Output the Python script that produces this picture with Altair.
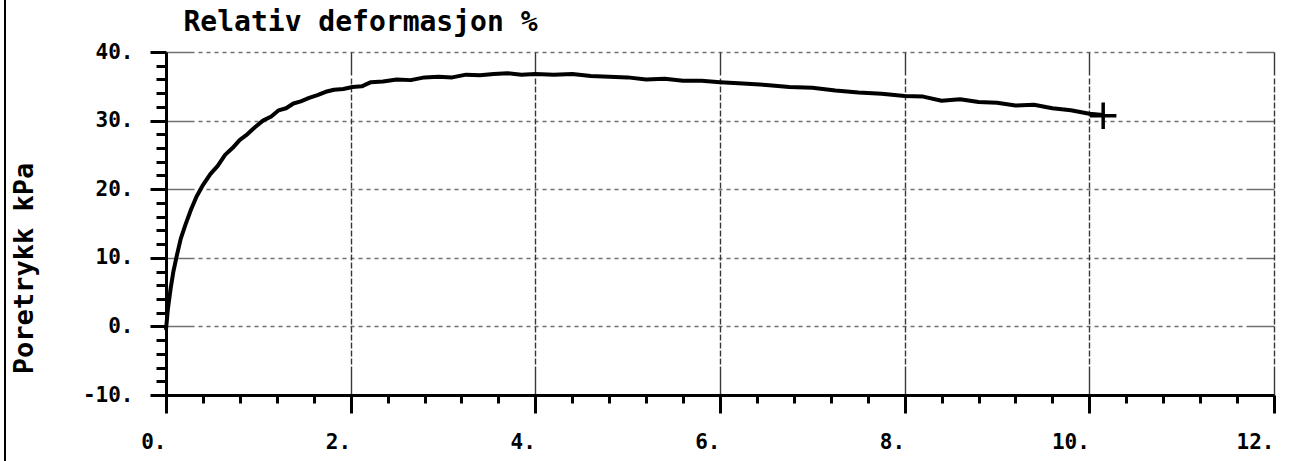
import altair as alt
import pandas as pd

# Curve (Relativ deformasjon %, Poretrykk kPa)
deform = [0.00, 0.02, 0.05, 0.08, 0.12, 0.16, 0.21, 0.27, 0.33, 0.40, 0.48, 0.56,
          0.64, 0.72, 0.80, 0.88, 0.96, 1.05, 1.14, 1.22, 1.30, 1.38, 1.46, 1.55,
          1.64, 1.73, 1.82, 1.92, 2.02, 2.12, 2.22, 2.35, 2.50, 2.65, 2.80, 2.95,
          3.10, 3.25, 3.40, 3.55, 3.70, 3.85, 4.00, 4.20, 4.40, 4.60, 4.80, 5.00,
          5.20, 5.40, 5.60, 5.80, 6.00, 6.25, 6.50, 6.75, 7.00, 7.25, 7.50, 7.75,
          8.00, 8.20, 8.40, 8.60, 8.80, 9.00, 9.20, 9.40, 9.60, 9.80, 10.00, 10.15]
poretrykk = [-0.5, 2.5, 5.5, 8.0, 10.5, 12.8, 14.8, 17.0, 18.9, 20.6, 22.2, 23.4,
             25.0, 26.0, 27.2, 28.0, 29.0, 30.0, 30.6, 31.5, 31.8, 32.5, 32.8, 33.3,
             33.7, 34.2, 34.5, 34.6, 34.9, 35.0, 35.6, 35.7, 36.0, 35.9, 36.3, 36.4,
             36.3, 36.7, 36.6, 36.8, 36.9, 36.7, 36.8, 36.7, 36.8, 36.5, 36.4, 36.3,
             36.0, 36.1, 35.8, 35.8, 35.6, 35.4, 35.2, 34.9, 34.8, 34.4, 34.1, 33.9,
             33.6, 33.5, 32.9, 33.1, 32.7, 32.6, 32.2, 32.3, 31.8, 31.5, 31.0, 30.8]

marker_x = [10.15]
marker_y = [30.7]

x_tick_values = [0, 0.4, 0.8, 1.2, 1.6, 2, 2.4, 2.8, 3.2, 3.6, 4, 4.4, 4.8, 5.2, 5.6, 6,
                 6.4, 6.8, 7.2, 7.6, 8, 8.4, 8.8, 9.2, 9.6, 10, 10.4, 10.8, 11.2, 11.6, 12]
y_tick_values = [-10, -8, -6, -4, -2, 0, 2, 4, 6, 8, 10, 12, 14, 16, 18, 20, 22, 24, 26,
                 28, 30, 32, 34, 36, 38, 40]

x_title = "Relativ deformasjon %"
y_title = "Poretrykk kPa"

curve = pd.DataFrame({"x": deform, "y": poretrykk})
marker = pd.DataFrame({"x": marker_x, "y": marker_y})

FONT = "DejaVu Sans Mono"
W, H = 1108, 343

# grid dash patterns: solid near both ends (plotter tick extensions), dotted in between
h_grid_dash = [28, 4] + [4, 4] * 131 + [28, 10]
v_grid_dash = [23, 3] + [6, 2] * 36 + [29, 10]

x_major = "datum.value % 2 === 0"
y_major = "datum.value % 10 === 0"

x_axis = alt.Axis(
    values=x_tick_values, tickCount=200,
    labelExpr="datum.value % 2 === 0 ? datum.value + '.' : ''",
    labelFont=FONT, labelFontWeight="bold", labelFontSize=21, labelColor="black",
    labelAlign="right", labelBaseline="top", labelPadding=18,
    labelFlush=False, labelOverlap=False,
    tickSize={"condition": {"test": x_major, "value": 18}, "value": 8},
    tickWidth=3, tickColor="black",
    domainColor="black", domainWidth=3,
    grid=True, gridColor="#222222", gridWidth=1.4, gridDash=v_grid_dash,
    gridOpacity={"condition": {"test": x_major, "value": 0.9}, "value": 0},
    title=None,
)
y_axis = alt.Axis(
    values=y_tick_values, tickCount=200,
    labelExpr="datum.value % 10 === 0 ? datum.value + '.' : ''",
    labelFont=FONT, labelFontWeight="bold", labelFontSize=21, labelColor="black",
    labelAlign="right", labelBaseline="middle", labelPadding=17,
    labelFlush=False, labelOverlap=False,
    tickSize={"condition": {"test": y_major, "value": 16}, "value": 10},
    tickWidth=3, tickColor="black",
    domainColor="black", domainWidth=3,
    grid=True, gridColor="#333333", gridWidth=1.3, gridDash=h_grid_dash,
    gridOpacity={"condition": {"test": y_major, "value": 0.7}, "value": 0},
    title=y_title, titleFont=FONT, titleFontWeight="bold", titleFontSize=27,
    titleColor="black", titleX=-142, titleY=216, titleAngle=270,
    titleAlign="center", titleBaseline="middle",
)
top_axis = alt.Axis(
    orient="top", domain=False, ticks=False, labels=False, grid=False,
    title=x_title, titleFont=FONT, titleFontWeight="bold", titleFontSize=28,
    titleColor="black", titleX=17, titleY=-22, titleAlign="left",
    titleBaseline="alphabetic", titleAngle=0,
)

xs = alt.Scale(domain=[0, 12], nice=False, zero=False)
ys = alt.Scale(domain=[-10, 40], nice=False, zero=False)

line = alt.Chart(curve).mark_line(color="black", strokeWidth=4, strokeJoin="round").encode(
    x=alt.X("x:Q", scale=xs, axis=x_axis),
    y=alt.Y("y:Q", scale=ys, axis=y_axis),
)

plus = alt.Chart(marker).mark_point(
    shape="M-1,0L1,0M0,-1L0,1", size=700, strokeWidth=3.5, color="black", filled=False, opacity=1
).encode(
    x=alt.X("x:Q", scale=xs, axis=top_axis),
    y=alt.Y("y:Q", scale=ys),
)

border = alt.Chart(marker).mark_rule(color="black", strokeWidth=2).encode(
    x=alt.value(-161), y=alt.value(-52), y2=alt.value(409)
)

chart = alt.layer(line, plus, border).resolve_axis(x="independent").properties(
    width=W, height=H,
    autosize=alt.AutoSizeParams(type="none"),
    padding={"left": 166, "top": 52, "right": 19, "bottom": 66},
    background="white",
).configure_view(stroke=None)

chart.save("out.html", embed_options={"renderer": "svg", "actions": False})
